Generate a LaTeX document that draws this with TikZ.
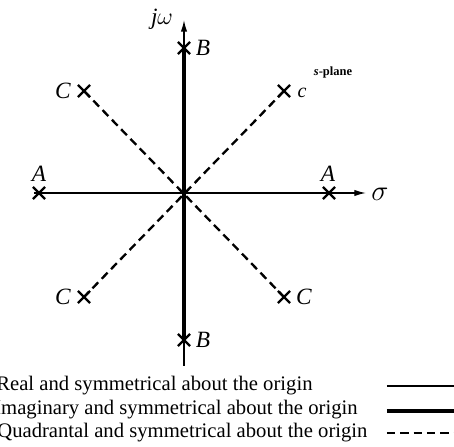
\documentclass[tikz,border=0pt]{standalone}
\usepackage{fontspec}
\setmainfont{Liberation Serif}
\usetikzlibrary{shapes.misc,arrows.meta}

\tikzset{
    polemark/.style={draw, cross out, minimum size=6pt, inner sep=0pt, line width=1.3pt},
    axisline/.style={line width=0.8pt, -{Latex[length=7pt,width=3.8pt]}},
    realline/.style={line width=1.3pt},
    imagline/.style={line width=2pt},
    quadline/.style={line width=1.4pt, dash pattern=on 5pt off 3pt},
    lbl/.style={font=\fontsize{14}{16}\selectfont\itshape, inner sep=1pt},
    legtext/.style={font=\fontsize{12.4}{14}\selectfont, anchor=west, inner sep=0pt}
}

\begin{document}
\begin{tikzpicture}[x=0.6pt, y=-0.6pt, every node/.style={align=center}]
    \useasboundingbox (0,0) rectangle (454,447);

    % axes
    \coordinate (O) at (184,193);
    \coordinate (xl) at (34,193);
    \coordinate (xr) at (366,193);
    \coordinate (yb) at (184,366);
    \coordinate (yt) at (184,20);
    \draw[axisline] (xl) -- (xr);
    \draw[axisline] (yb) -- (yt);
    \node[lbl, font=\fontsize{16}{18}\selectfont] (sig) at (380,194) {$\sigma$};
    \node[lbl] (jw) at (162,19) {j$\omega$};
    \node[font=\fontsize{7.5}{8}\selectfont\bfseries] (splane) at (333,72) {\textit{s}-plane};

    % pole positions
    \node[polemark] (Al) at (39,193) {};
    \node[polemark] (Ar) at (329,193) {};
    \node[polemark] (Bt) at (184,48) {};
    \node[polemark] (Bb) at (184,340) {};
    \node[polemark] (Ctl) at (84,91) {};
    \node[polemark] (Ctr) at (284,91) {};
    \node[polemark] (Cbl) at (84,297) {};
    \node[polemark] (Cbr) at (284,297) {};

    \draw[realline] (Al.center) -- (Ar.center);
    \draw[imagline] (Bt.center) -- (Bb.center);
    \draw[quadline] (Ctl.center) -- (Cbr.center);
    \draw[quadline] (Ctr.center) -- (Cbl.center);

    % labels
    \node[lbl] (Al-l) at (39,174) {A};
    \node[lbl] (Ar-l) at (328,174) {A};
    \node[lbl] (Bt-l) at (203,48) {B};
    \node[lbl] (Bb-l) at (203,340) {B};
    \node[lbl] (Ctl-l) at (63,91) {C};
    \node[lbl, font=\fontsize{12}{14}\selectfont\itshape] (Ctr-l) at (302,93) {c};
    \node[lbl] (Cbl-l) at (63,297) {C};
    \node[lbl] (Cbr-l) at (304,297) {C};

    % legend
    \node[legtext] (leg1) at (-4,386) {Real and symmetrical about the origin};
    \node[legtext] (leg2) at (-6,410) {Imaginary and symmetrical about the origin};
    \node[legtext] (leg3) at (-3,433) {Quadrantal and symmetrical about the origin};
    \coordinate (k1a) at (387,386); \coordinate (k1b) at (454,386);
    \coordinate (k2a) at (387,411); \coordinate (k2b) at (454,411);
    \coordinate (k3a) at (387,433); \coordinate (k3b) at (454,433);
    \draw[realline] (k1a) -- (k1b);
    \draw[imagline] (k2a) -- (k2b);
    \draw[quadline] (k3a) -- (k3b);
\end{tikzpicture}
\end{document}
